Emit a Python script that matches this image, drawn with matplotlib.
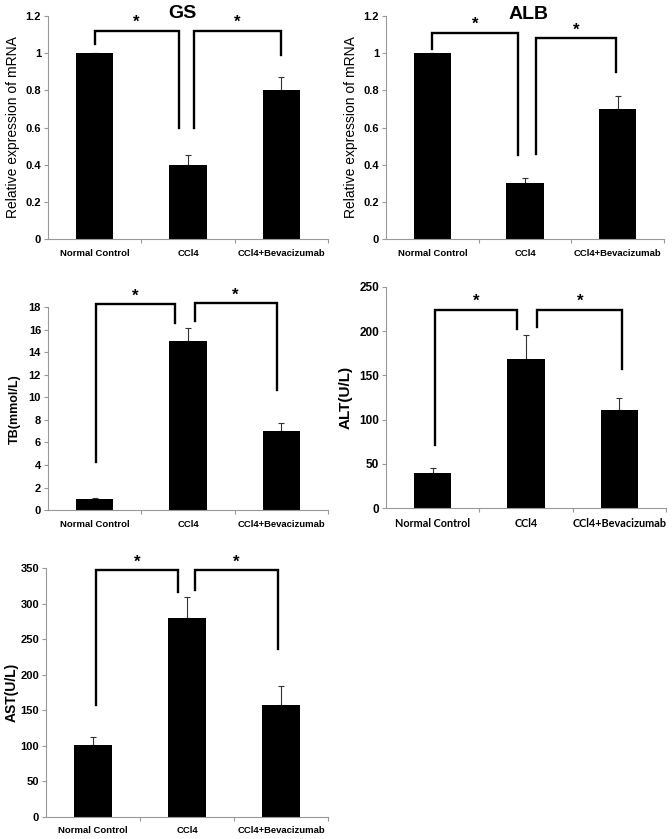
import matplotlib
matplotlib.use("Agg")
import matplotlib.pyplot as plt
from matplotlib.ticker import FixedLocator, FuncFormatter

plt.rcParams['font.family'] = ['Liberation Sans', 'DejaVu Sans']

groups = ["Normal Control", "CCl4", "CCl4+Bevacizumab"]

# values
gs_mean = [1.0, 0.4, 0.8]
gs_err = [0.0, 0.05, 0.07]
alb_mean = [1.0, 0.3, 0.7]
alb_err = [0.0, 0.03, 0.07]
tb_mean = [1.0, 15.0, 7.0]
tb_err = [0.1, 1.2, 0.7]
alt_mean = [40, 168, 111]
alt_err = [5, 27, 13]
ast_mean = [101, 280, 158]
ast_err = [12, 30, 26]

# significance brackets: (x left, x right, top, left leg end, right leg end)
gs_brackets = [(0.0, 0.9, 1.12, 1.05, 0.6), (1.06, 2.0, 1.12, 0.6, 0.99)]
alb_brackets = [(0.0, 0.92, 1.11, 1.02, 0.45), (1.12, 1.98, 1.08, 0.46, 0.9)]
tb_brackets = [(0.01, 0.86, 18.27, 4.3, 16.6), (1.07, 1.95, 18.35, 16.8, 10.65)]
alt_brackets = [(0.03, 0.9, 224, 71, 202), (1.12, 2.03, 224, 204, 157)]
ast_brackets = [(0.03, 0.9, 347, 157, 317), (1.08, 1.97, 347, 320, 236)]

fig = plt.figure(figsize=(6.72, 8.39), dpi=100)


def panel(rect, means, errs, ymax, ystep, ylabel, brackets, title=None,
          label_bold=True, label_size=9, label_x=-0.1, tick_size=8,
          xfont=None, xsize=6.8):
    ax = fig.add_axes(rect)
    x = range(len(groups))
    ax.bar(x, means, width=0.4, color="black", zorder=2)
    ax.errorbar(x, means, yerr=[[0] * len(errs), errs], fmt="none",
                ecolor="#333333", elinewidth=0.8, capsize=2.5, capthick=0.8,
                zorder=1)
    ax.set_xlim(-0.5, 2.5)
    ax.set_ylim(0, ymax)
    ticks = [i * ystep for i in range(int(round(ymax / ystep)) + 1)]
    ax.yaxis.set_major_locator(FixedLocator(ticks))
    ax.yaxis.set_major_formatter(FuncFormatter(lambda v, p: "%g" % round(v, 6)))
    ax.set_xticks(list(x))
    ax.set_xticklabels(groups)
    ax.xaxis.set_minor_locator(FixedLocator([0.5, 1.5, 2.5]))
    for s in ["top", "right"]:
        ax.spines[s].set_visible(False)
    for s in ["left", "bottom"]:
        ax.spines[s].set_color("#999999")
        ax.spines[s].set_linewidth(0.8)
    ax.tick_params(axis="y", length=3, width=0.8, color="#999999",
                   labelsize=tick_size, pad=2)
    ax.tick_params(axis="x", which="major", length=0, pad=7, labelsize=xsize)
    ax.tick_params(axis="x", which="minor", length=3, width=0.8,
                   color="#999999")
    for t in ax.get_yticklabels():
        t.set_fontweight("bold")
    for t in ax.get_xticklabels():
        t.set_fontweight("bold")
        if xfont:
            t.set_family(xfont)
    ax.set_ylabel(ylabel, fontsize=label_size,
                  fontweight="bold" if label_bold else "normal")
    ax.yaxis.set_label_coords(label_x, 0.5)

    for x0, x1, top, l0, l1 in brackets:
        ax.plot([x0, x0, x1, x1], [l0, top, top, l1], color="black",
                lw=1.7, clip_on=False, solid_joinstyle="miter")
        ax.annotate("*", xy=((x0 + x1) / 2, top), xytext=(0, 0.5),
                    textcoords="offset points", ha="center", va="bottom",
                    fontsize=12, fontweight="bold", annotation_clip=False)
    if title:
        ax.text(title[0], title[1], title[2], transform=ax.get_xaxis_transform(),
                ha="center", va="center", fontsize=14, fontweight="bold")
    return ax


panel([0.0714, 0.7151, 0.4167, 0.2658], gs_mean, gs_err, 1.2, 0.2,
      "Relative expression of mRNA", gs_brackets, title=(0.94, 1.013, "GS"),
      label_bold=False, label_size=10, label_x=-0.1)
panel([0.5744, 0.7151, 0.4137, 0.2658], alb_mean, alb_err, 1.2, 0.2,
      "Relative expression of mRNA", alb_brackets, title=(1.04, 1.008, "ALB"),
      label_bold=False, label_size=10, label_x=-0.102)
panel([0.0714, 0.3921, 0.4167, 0.2416], tb_mean, tb_err, 18, 2,
      "TB(mmol/L)", tb_brackets, label_size=9, label_x=-0.098)
panel([0.5744, 0.3942, 0.4167, 0.2641], alt_mean, alt_err, 250, 50,
      "ALT(U/L)", alt_brackets, label_size=11, label_x=-0.119, tick_size=8.5,
      xfont="Lato", xsize=7.8)
panel([0.0685, 0.0266, 0.4196, 0.2960], ast_mean, ast_err, 350, 50,
      "AST(U/L)", ast_brackets, label_size=10, label_x=-0.098)

fig.savefig("out.png", dpi=100)
